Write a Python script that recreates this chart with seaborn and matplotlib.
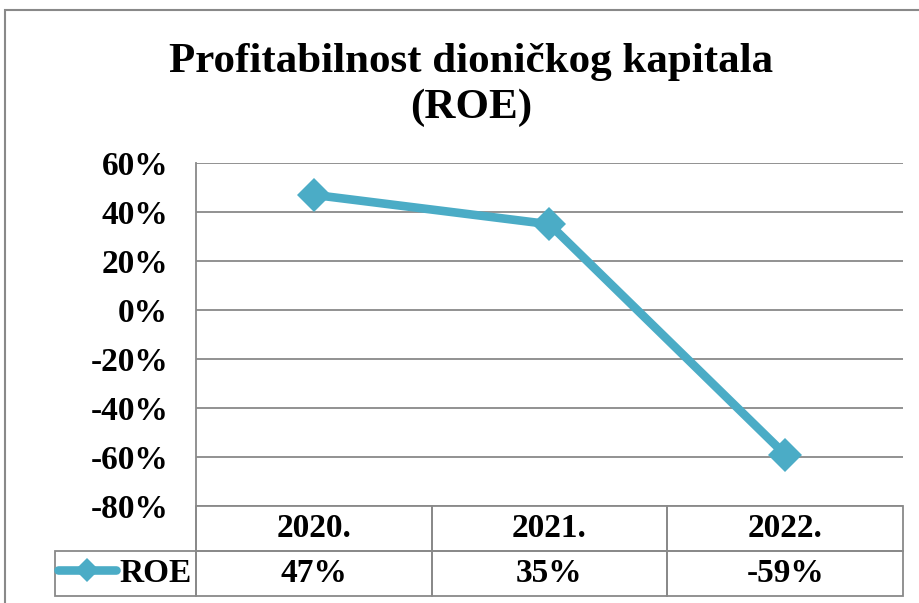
import numpy as np
import pandas as pd
import seaborn as sns
import matplotlib.pyplot as plt
from matplotlib.patches import Rectangle

## data
years = ["2020.", "2021.", "2022."]
roe = [0.47, 0.35, -0.59]
roe_labels = ["47%", "35%", "-59%"]
y_ticks = [-0.8, -0.6, -0.4, -0.2, 0.0, 0.2, 0.4, 0.6]
title = "Profitabilnost dioničkog kapitala\n(ROE)"

line_color = "#4BACC6"
grid_color = "#898989"

sns.set_theme(style="white")
plt.rcParams["font.family"] = ["Liberation Serif", "DejaVu Serif"]
plt.rcParams["font.weight"] = "bold"
plt.rcParams["text.color"] = "black"
plt.rcParams["ytick.color"] = "black"

df = pd.DataFrame({"pos": np.arange(len(years)), "ROE": roe})

fig = plt.figure(figsize=(9.2, 6.03), dpi=100)
W, H = 920, 603
ax = fig.add_axes([196 / W, 1 - 506 / H, (903 - 196) / W, (506 - 163) / H])

sns.lineplot(data=df, x="pos", y="ROE", ax=ax, color=line_color, linewidth=6.2,
             marker="D", markersize=17, markeredgewidth=0, label="ROE")

ax.set_xlim(-0.5, len(years) - 0.5)
ax.set_ylim(-0.8, 0.6)
ax.set_yticks(y_ticks)
ax.set_yticklabels([f"{int(round(v * 100))}%" for v in y_ticks], fontsize=24, fontweight="bold")
ax.tick_params(axis="y", length=0, pad=20)
ax.set_xticks([])
ax.set_xlabel("")
ax.set_ylabel("")
for v in y_ticks:
    ax.axhline(v, color=grid_color, lw=1.3, zorder=0)
for s in ["top", "right", "bottom"]:
    ax.spines[s].set_visible(False)
ax.spines["left"].set_color(grid_color)
ax.spines["left"].set_linewidth(1.3)

## data table under the plot
ax_w = 903 - 196
ax_h = 506 - 163
col_w = [141 / 848] + [(ax_w / 3) / 848] * 3
tbl = ax.table(cellText=[[""] + roe_labels], colLabels=[""] + years,
               cellLoc="center", colLoc="center", colWidths=col_w,
               bbox=[(55 - 196) / ax_w, -90 / ax_h, 848 / ax_w, 90 / ax_h])
tbl.auto_set_font_size(False)
for (r, c), cell in tbl.get_celld().items():
    cell.set_edgecolor(grid_color)
    cell.set_linewidth(1.3)
    cell.get_text().set_fontsize(24)
    cell.get_text().set_fontweight("bold")
    cell.get_text().set_color("black")
    cell.set_facecolor("none")
tbl[(0, 0)].visible_edges = "R"

leg = ax.legend(loc="center left", bbox_to_anchor=(58 / W, 1 - 573 / H),
                bbox_transform=fig.transFigure, frameon=False, fontsize=24,
                handlelength=1.75, handletextpad=0.08, borderpad=0, borderaxespad=0)
for t in leg.get_texts():
    t.set_fontweight("bold")
for h in leg.legend_handles:
    h.set_markersize(12)
    h.set_solid_capstyle("round")

fig.text(471 / W, 1 - 85 / H, title, ha="center", va="center",
         fontsize=31, fontweight="bold", linespacing=1.28)

## outer chart border
fig.patches.append(Rectangle((5 / W, -0.1), 2, 1 - 10 / H + 0.1, transform=fig.transFigure,
                             fill=False, edgecolor=grid_color, lw=1.5))

fig.savefig("out.png", dpi=100)
